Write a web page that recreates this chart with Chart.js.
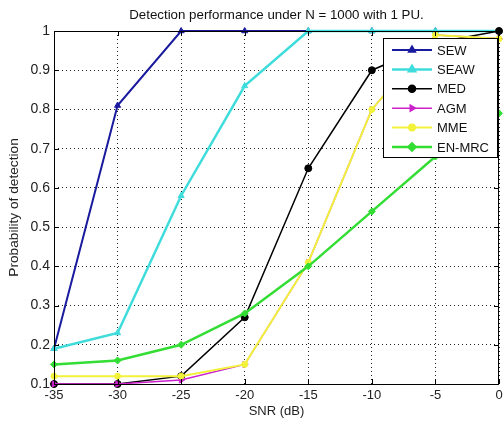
<!DOCTYPE html>
<html>
<head>
<meta charset="utf-8">
<script src="https://cdn.jsdelivr.net/npm/chart.js@4.4.1/dist/chart.umd.min.js"></script>
<style>
  html, body { margin: 0; padding: 0; background: #fff; }
  #wrap { width: 504px; height: 422px; }
</style>
</head>
<body>
<div id="wrap"><canvas id="pd"></canvas></div>
<script>
const snr = [-35, -30, -25, -20, -15, -10, -5, 0];
const xTicks = [-35, -30, -25, -20, -15, -10, -5, 0];
const yTicks = [0.1, 0.2, 0.3, 0.4, 0.5, 0.6, 0.7, 0.8, 0.9, 1];

const sew = [0.19, 0.81, 1.0, 1.0, 1.0, 1.0, 1.0, 1.0];
const seaw = [0.19, 0.23, 0.58, 0.86, 1.0, 1.0, 1.0, 1.0];
const med = [0.10, 0.10, 0.12, 0.27, 0.65, 0.90, 0.97, 1.0];
const agm = [0.10, 0.10, 0.11, 0.15, 0.41, 0.80, 0.99, 0.98];
const mme = [0.12, 0.12, 0.12, 0.15, 0.41, 0.80, 0.99, 0.98];
const enmrc = [0.15, 0.16, 0.20, 0.28, 0.40, 0.54, 0.68, 0.79];

const font = "'Liberation Sans', Arial, sans-serif";

function pts(arr) {
  return arr.map(function (v, i) { return { x: snr[i], y: v }; });
}

function series(label, arr, color, width, style, radius, order, rot) {
  return {
    label: label,
    data: pts(arr),
    borderColor: color,
    backgroundColor: color,
    borderWidth: width,
    pointStyle: style,
    pointRadius: radius,
    pointRotation: rot || 0,
    pointBorderWidth: 1,
    pointBackgroundColor: color,
    pointBorderColor: color,
    order: order,
    clip: false,
    tension: 0,
  };
}

// box round the plot, inward ticks, title and a MATLAB-like legend inside the axes
const overlay = {
  id: "overlay",
  afterDraw: function (chart) {
    const ctx = chart.ctx;
    const a = chart.chartArea;
    const xs = chart.scales.x, ys = chart.scales.y;
    ctx.save();
    ctx.strokeStyle = "#000";
    ctx.lineWidth = 1;
    ctx.strokeRect(a.left + 0.5, a.top + 0.5, a.right - a.left - 1, a.bottom - a.top);

    ctx.beginPath();
    xTicks.forEach(function (v) {
      const px = Math.round(xs.getPixelForValue(v)) + 0.5;
      ctx.moveTo(px, a.bottom); ctx.lineTo(px, a.bottom - 5);
      ctx.moveTo(px, a.top); ctx.lineTo(px, a.top + 5);
    });
    yTicks.forEach(function (v) {
      const py = Math.round(ys.getPixelForValue(v)) + 0.5;
      ctx.moveTo(a.left, py); ctx.lineTo(a.left + 5, py);
      ctx.moveTo(a.right, py); ctx.lineTo(a.right - 5, py);
    });
    ctx.stroke();

    ctx.fillStyle = "#111";
    ctx.font = "13.3px " + font;
    ctx.textAlign = "center";
    ctx.textBaseline = "middle";
    ctx.fillText("Detection performance under N = 1000 with 1 PU.", (a.left + a.right) / 2, 15);

    const bx = 383, by = 38, bw = 114, bh = 119;
    ctx.fillStyle = "#fff";
    ctx.fillRect(bx, by, bw, bh);
    ctx.strokeStyle = "#000";
    ctx.strokeRect(bx + 0.5, by + 0.5, bw, bh);
    ctx.textAlign = "left";
    ctx.font = "13px " + font;
    chart.data.datasets.forEach(function (ds, i) {
      const y = 50 + i * 19.4;
      ctx.strokeStyle = ds.borderColor;
      ctx.lineWidth = ds.borderWidth;
      ctx.beginPath();
      ctx.moveTo(392, y);
      ctx.lineTo(432, y);
      ctx.stroke();
      Chart.helpers.drawPoint(ctx, {
        pointStyle: ds.pointStyle,
        radius: ds.pointRadius,
        rotation: ds.pointRotation,
        borderWidth: 1,
      }, 412, y);
      ctx.fillStyle = ds.borderColor;
      ctx.fill();
      ctx.fillStyle = "#111";
      ctx.fillText(ds.label, 437, y + 1);
    });
    ctx.restore();
  },
};

new Chart(document.getElementById("pd"), {
  type: "line",
  plugins: [overlay],
  data: {
    datasets: [
      series("SEW", sew, "#1a1a9e", 2, "triangle", 3.5, 6),
      series("SEAW", seaw, "#3fdcdc", 2.5, "triangle", 3.5, 5),
      series("MED", med, "#000000", 1.5, "circle", 3.5, 4),
      series("AGM", agm, "#cc22cc", 1.5, "triangle", 3.5, 3, 90),
      series("MME", mme, "#f2f23a", 2, "circle", 3, 2),
      series("EN-MRC", enmrc, "#33dd33", 2.5, "rectRot", 3.5, 1),
    ],
  },
  options: {
    responsive: true,
    maintainAspectRatio: false,
    animation: false,
    layout: { padding: { top: 31, right: 2, left: 0, bottom: 0 } },
    plugins: {
      legend: { display: false },
      title: { display: false },
      tooltip: { enabled: false },
    },
    scales: {
      x: {
        type: "linear",
        min: -35,
        max: 0,
        afterBuildTicks: function (scale) {
          scale.ticks = xTicks.map(function (v) { return { value: v }; });
        },
        afterFit: function (scale) {
          scale.height = 38;
          scale.paddingLeft = 0;
          scale.paddingRight = 0;
        },
        grid: {
          color: "#222",
          drawTicks: false,
        },
        border: { display: false, dash: [1, 3] },
        ticks: {
          padding: 4,
          color: "#222",
          font: { family: font, size: 13 },
          maxRotation: 0,
        },
        title: {
          display: true,
          text: "SNR (dB)",
          color: "#222",
          font: { family: font, size: 13 },
          padding: { top: 0, bottom: 3 },
        },
      },
      y: {
        min: 0.1,
        max: 1,
        afterBuildTicks: function (scale) {
          scale.ticks = yTicks.map(function (v) { return { value: v }; });
        },
        afterFit: function (scale) {
          scale.width = 54;
          scale.paddingTop = 0;
          scale.paddingBottom = 0;
        },
        grid: {
          color: "#222",
          drawTicks: false,
        },
        border: { display: false, dash: [1, 3] },
        ticks: {
          padding: 4,
          color: "#222",
          font: { family: font, size: 14 },
          callback: function (v) { return String(+v.toFixed(1)); },
        },
        title: {
          display: true,
          text: "Probability of detection",
          color: "#222",
          font: { family: font, size: 13.7 },
          padding: { top: 6, bottom: 0 },
        },
      },
    },
  },
});
</script>
</body>
</html>
